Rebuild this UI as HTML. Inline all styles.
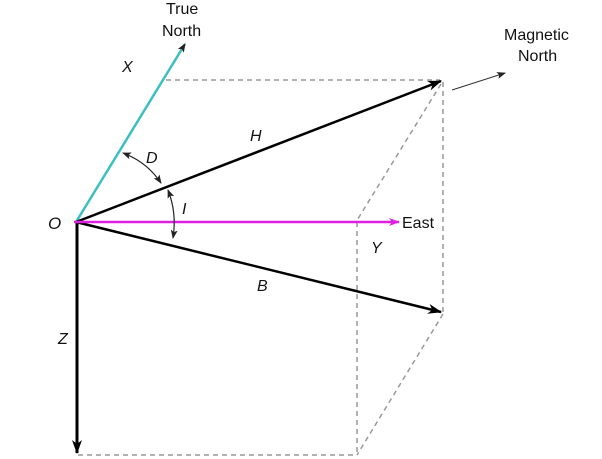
<!DOCTYPE html>
<html><head><meta charset="utf-8"><style>
html,body{margin:0;padding:0;background:#fff;width:602px;height:459px;overflow:hidden}
svg{display:block}
text{font-family:"Liberation Sans",sans-serif;font-size:16px;fill:#111}
.it{font-style:italic}
</style></head><body>
<svg width="602" height="459" viewBox="0 0 602 459">
<defs>
<marker id="ab" markerWidth="14" markerHeight="10" refX="13" refY="5" orient="auto" markerUnits="userSpaceOnUse"><path d="M0,0 L14,5 L0,10 L4,5 z" fill="#000"/></marker>
<marker id="am" markerWidth="11" markerHeight="8" refX="10" refY="4" orient="auto" markerUnits="userSpaceOnUse"><path d="M0,0 L11,4 L0,8 L3,4 z" fill="#e020e0"/></marker>
<marker id="as" markerWidth="9" markerHeight="7" refX="8" refY="3.5" orient="auto-start-reverse" markerUnits="userSpaceOnUse"><path d="M0,0 L9,3.5 L0,7 L2,3.5 z" fill="#222"/></marker>
</defs>
<g stroke="#999" stroke-width="1.5" stroke-dasharray="5,4" fill="none">
<line x1="166" y1="80" x2="440" y2="80"/>
<line x1="443" y1="82" x2="443" y2="312"/>
<line x1="441" y1="84" x2="356" y2="222"/>
<line x1="357" y1="222" x2="357" y2="455"/>
<line x1="443" y1="314" x2="357" y2="455"/>
<line x1="78" y1="455" x2="357" y2="455"/>
</g>
<line x1="76" y1="222" x2="185" y2="44" stroke="#3bbfc0" stroke-width="2.5" marker-end="url(#as)"/>
<line x1="76" y1="222" x2="441" y2="81" stroke="#000" stroke-width="2.5" marker-end="url(#ab)"/>
<line x1="76" y1="222" x2="441" y2="312" stroke="#000" stroke-width="2.5" marker-end="url(#ab)"/>
<line x1="77" y1="222" x2="77" y2="453" stroke="#000" stroke-width="3" marker-end="url(#ab)"/>
<line x1="74" y1="222" x2="399" y2="222" stroke="#e020e0" stroke-width="2.5" marker-end="url(#am)"/>
<line x1="452" y1="90" x2="505" y2="73" stroke="#333" stroke-width="1" marker-end="url(#as)"/>
<path d="M123,153 Q147,162 161,183" stroke="#222" stroke-width="1.2" fill="none" marker-start="url(#as)" marker-end="url(#as)"/>
<path d="M168,190 Q177,213 173,238" stroke="#222" stroke-width="1.2" fill="none" marker-start="url(#as)" marker-end="url(#as)"/>
<text x="166" y="14">True</text>
<text x="162" y="36">North</text>
<text x="504" y="40">Magnetic</text>
<text x="518" y="61">North</text>
<text x="402" y="228">East</text>
<text class="it" x="122" y="72">X</text>
<text class="it" x="146" y="163">D</text>
<text class="it" x="250" y="141">H</text>
<text class="it" x="182" y="214">I</text>
<text class="it" x="48" y="229" style="font-size:17px">O</text>
<text class="it" x="371" y="253">Y</text>
<text class="it" x="257" y="291">B</text>
<text class="it" x="58" y="344">Z</text>
</svg>
</body></html>
